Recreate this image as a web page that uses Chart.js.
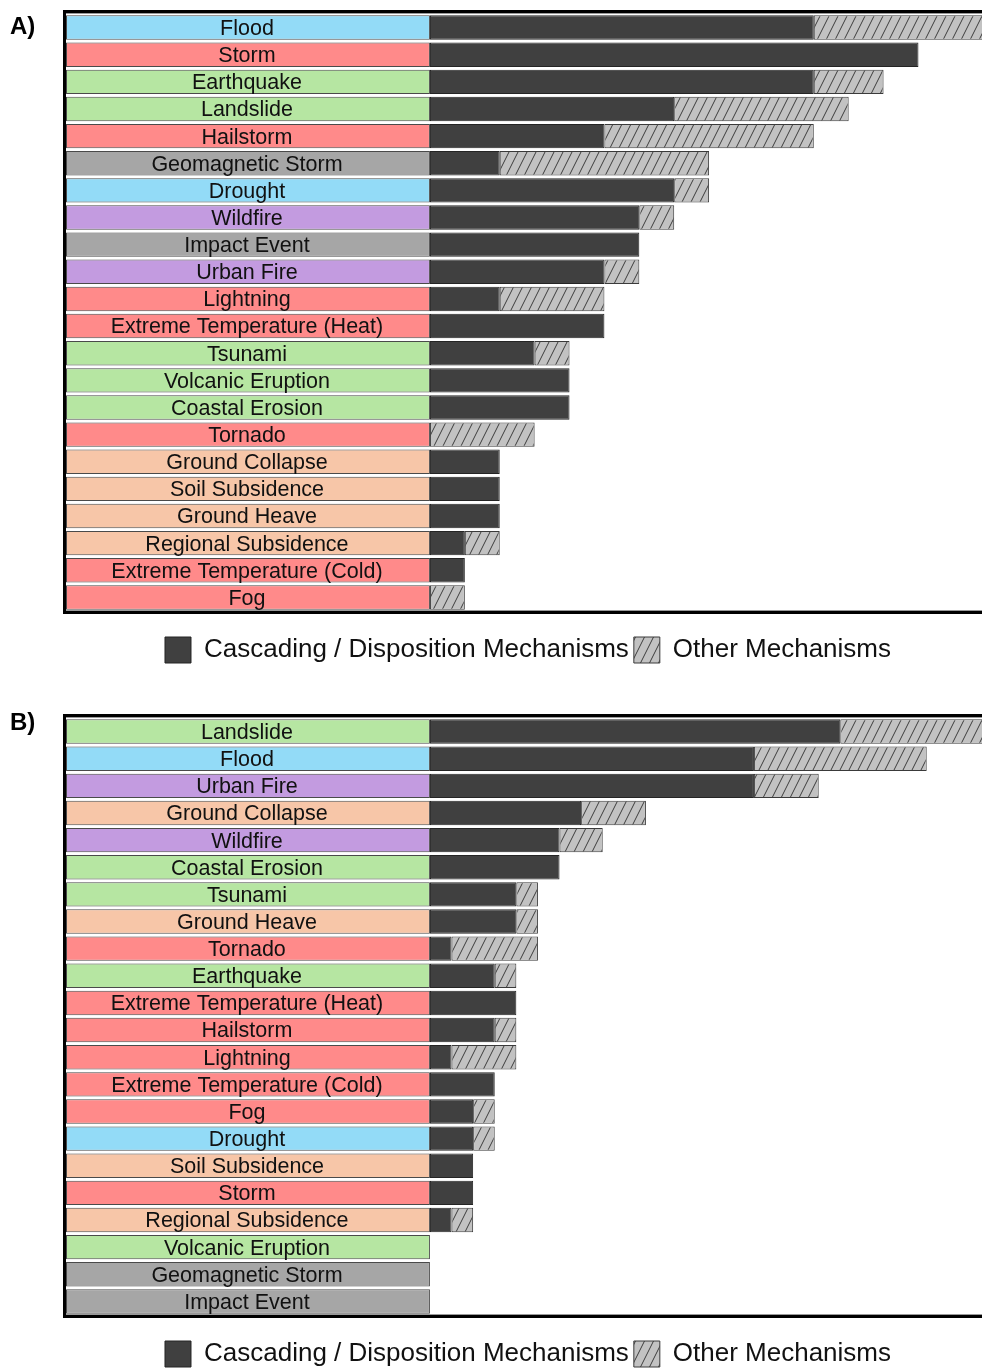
<!DOCTYPE html>
<html>
<head>
<meta charset="utf-8">
<title>Hazard mechanisms</title>
<script src="https://cdn.jsdelivr.net/npm/chart.js@4.4.1/dist/chart.umd.min.js"></script>
<style>
  html, body { margin: 0; padding: 0; background: #fff; overflow: hidden; width: 982px; height: 1368px; }
  .panel { position: absolute; left: 0; width: 996px; height: 690px; }
  .panel canvas { display: block; }
  .tag { position: absolute; left: 10px; font: bold 24px "Liberation Sans", Arial, sans-serif; color: #000; line-height: 24px; }
</style>
</head>
<body>
<div class="panel" style="top:0px"><canvas id="chartA" width="996" height="690"></canvas></div>
<div class="panel" style="top:704px"><canvas id="chartB" width="996" height="690"></canvas></div>
<div class="tag" style="top:14px">A)</div>
<div class="tag" style="top:710px">B)</div>
<script>
// ---- Panel A ----
const hazardsA = ['Flood', 'Storm', 'Earthquake', 'Landslide', 'Hailstorm', 'Geomagnetic Storm',
  'Drought', 'Wildfire', 'Impact Event', 'Urban Fire', 'Lightning', 'Extreme Temperature (Heat)',
  'Tsunami', 'Volcanic Eruption', 'Coastal Erosion', 'Tornado', 'Ground Collapse', 'Soil Subsidence',
  'Ground Heave', 'Regional Subsidence', 'Extreme Temperature (Cold)', 'Fog'];
const cascadingA = [11, 14, 11, 7, 5, 2, 7, 6, 6, 5, 2, 5, 3, 4, 4, 0, 2, 2, 2, 1, 1, 0];
const otherA     = [5, 0, 2, 5, 6, 6, 1, 1, 0, 1, 3, 0, 1, 0, 0, 3, 0, 0, 0, 1, 0, 1];

// ---- Panel B ----
const hazardsB = ['Landslide', 'Flood', 'Urban Fire', 'Ground Collapse', 'Wildfire', 'Coastal Erosion',
  'Tsunami', 'Ground Heave', 'Tornado', 'Earthquake', 'Extreme Temperature (Heat)', 'Hailstorm',
  'Lightning', 'Extreme Temperature (Cold)', 'Fog', 'Drought', 'Soil Subsidence', 'Storm',
  'Regional Subsidence', 'Volcanic Eruption', 'Geomagnetic Storm', 'Impact Event'];
const cascadingB = [19, 15, 15, 7, 6, 6, 4, 4, 1, 3, 4, 3, 1, 3, 2, 2, 2, 2, 1, 0, 0, 0];
const otherB     = [7, 8, 3, 3, 2, 0, 1, 1, 4, 1, 0, 1, 3, 0, 1, 1, 0, 0, 1, 0, 0, 0];

const seriesNames = ['Cascading / Disposition Mechanisms', 'Other Mechanisms'];

// hazard family of each label band
const hazardFamily = {
  'Flood': 'water', 'Drought': 'water',
  'Storm': 'weather', 'Hailstorm': 'weather', 'Lightning': 'weather', 'Tornado': 'weather',
  'Extreme Temperature (Heat)': 'weather', 'Extreme Temperature (Cold)': 'weather', 'Fog': 'weather',
  'Earthquake': 'geo', 'Landslide': 'geo', 'Tsunami': 'geo', 'Volcanic Eruption': 'geo', 'Coastal Erosion': 'geo',
  'Geomagnetic Storm': 'space', 'Impact Event': 'space',
  'Wildfire': 'fire', 'Urban Fire': 'fire',
  'Ground Collapse': 'ground', 'Soil Subsidence': 'ground', 'Ground Heave': 'ground', 'Regional Subsidence': 'ground'
};
const familyColour = {
  water: '#93dbf7', weather: '#ff8a8a', geo: '#b6e6a2',
  space: '#a6a6a6', fire: '#c39be0', ground: '#f7c6a8'
};

const FONT = '"Liberation Sans", Arial, Helvetica, sans-serif';

function hatchPattern() {
  const w = 9, h = 18;
  const c = document.createElement('canvas');
  c.width = w; c.height = h;
  const g = c.getContext('2d');
  g.fillStyle = '#c2c2c2';
  g.fillRect(0, 0, w, h);
  g.strokeStyle = '#3c3c3c';
  g.lineWidth = 1;
  g.beginPath();
  g.moveTo(0, h); g.lineTo(w, 0);
  g.moveTo(-w, h); g.lineTo(0, 0);
  g.moveTo(w, h); g.lineTo(2 * w, 0);
  g.stroke();
  return g.createPattern(c, 'repeat');
}
const HATCH = hatchPattern();

// category names written centred on the coloured label bands
const bandText = {
  id: 'bandText',
  afterDatasetsDraw(chart) {
    const meta = chart.getDatasetMeta(0);
    const ctx = chart.ctx;
    ctx.save();
    ctx.font = '21.5px ' + FONT;
    ctx.fillStyle = '#111';
    ctx.textAlign = 'center';
    ctx.textBaseline = 'middle';
    meta.data.forEach((el, i) => {
      ctx.fillText(chart.data.labels[i], (el.x + el.base) / 2 - 1, el.y + 1.5);
    });
    ctx.restore();
  }
};

// heavy axis frame on the left, top and bottom of the plot
const axisFrame = {
  id: 'axisFrame',
  afterDatasetsDraw(chart) {
    const { ctx, chartArea: a } = chart;
    ctx.save();
    ctx.strokeStyle = '#000';
    ctx.lineWidth = 3;
    ctx.beginPath();
    ctx.moveTo(chart.width, a.top - 2.5);
    ctx.lineTo(a.left - 1.5, a.top - 2.5);
    ctx.lineTo(a.left - 1.5, a.bottom + 1.5);
    ctx.lineTo(chart.width, a.bottom + 1.5);
    ctx.stroke();
    ctx.strokeStyle = '#9a9a9a';
    ctx.lineWidth = 1;
    ctx.beginPath();
    ctx.moveTo(a.left, a.top - 0.5);
    ctx.lineTo(chart.width, a.top - 0.5);
    ctx.moveTo(a.left, a.bottom - 0.5);
    ctx.lineTo(chart.width, a.bottom - 0.5);
    ctx.stroke();
    ctx.restore();
  }
};

function buildChart(id, hazards, cascading, other, xMin, xMax) {
  const bands = hazards.map(() => [xMin, 0]);
  const casc = cascading.map(v => [0, v]);
  const oth = other.map((v, i) => [cascading[i], cascading[i] + v]);
  return new Chart(document.getElementById(id), {
    type: 'bar',
    data: {
      labels: hazards,
      datasets: [
        {
          label: 'bands', data: bands,
          backgroundColor: hazards.map(h => familyColour[hazardFamily[h]]),
          borderColor: '#4a4a4a', borderWidth: 1
        },
        {
          label: seriesNames[0], data: casc,
          backgroundColor: '#404040', borderColor: '#242424', borderWidth: 1
        },
        {
          label: seriesNames[1], data: oth,
          backgroundColor: HATCH, borderColor: '#3a3a3a', borderWidth: 1
        }
      ]
    },
    options: {
      indexAxis: 'y',
      responsive: false,
      devicePixelRatio: 1,
      animation: false,
      events: [],
      layout: { padding: { left: 66, right: 6, top: 14, bottom: 17 } },
      datasets: {
        bar: { grouped: false, categoryPercentage: 1, barPercentage: 0.9, borderSkipped: false }
      },
      scales: {
        x: { display: false, min: xMin, max: xMax },
        y: { display: false }
      },
      plugins: {
        tooltip: { enabled: false },
        legend: {
          position: 'bottom',
          title: { display: true, text: '', font: { size: 10, lineHeight: 1 }, padding: { top: 11, bottom: 0 } },
          labels: {
            filter: item => item.datasetIndex > 0,
            boxWidth: 26, boxHeight: 26, padding: 5,
            color: '#111',
            font: { family: FONT, size: 26 }
          }
        }
      }
    },
    plugins: [bandText, axisFrame]
  });
}

buildChart('chartA', hazardsA, cascadingA, otherA, -10.43, 16.05);
buildChart('chartB', hazardsB, cascadingB, otherB, -16.85, 25.93);
</script>
</body>
</html>
